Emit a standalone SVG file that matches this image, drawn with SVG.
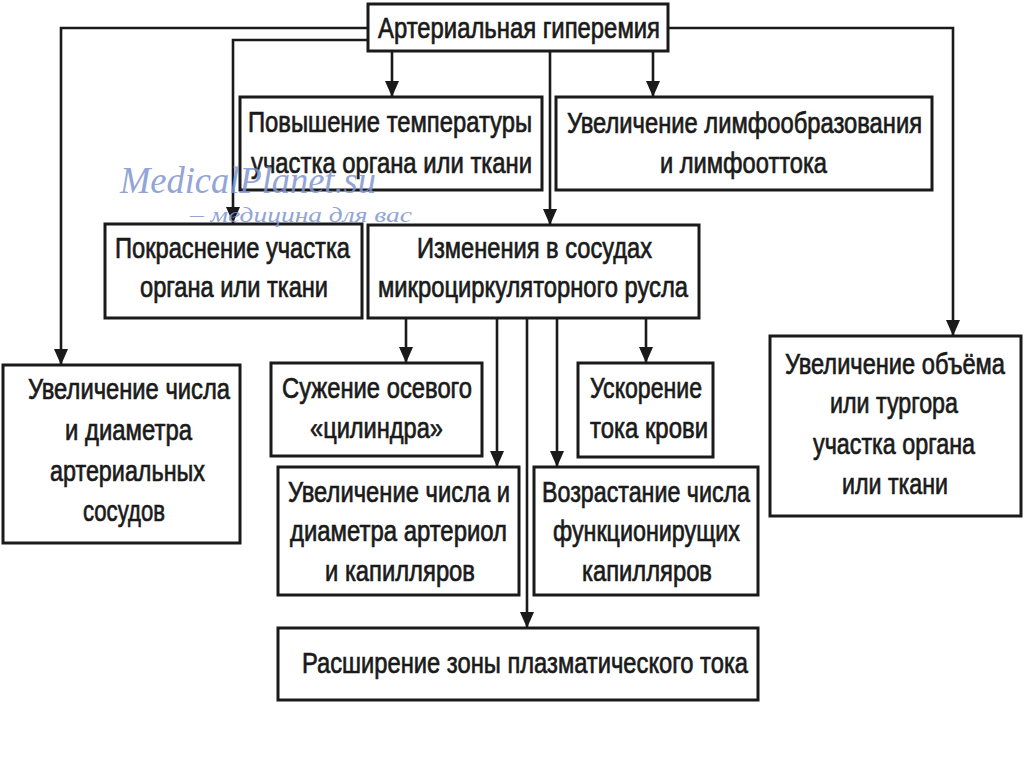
<svg xmlns="http://www.w3.org/2000/svg" width="1024" height="767" viewBox="0 0 1024 767">
<defs>
<marker id="arr" markerUnits="userSpaceOnUse" markerWidth="16" markerHeight="14" refX="16" refY="7" orient="auto" viewBox="0 0 16 14">
<path d="M0,0 L16,7 L0,14 Z" fill="#1a1a1a"/>
</marker>
</defs>
<style>
.box{fill:#fff;stroke:#1a1a1a;stroke-width:3}
.t{font-family:"Liberation Sans",Arial,sans-serif;font-size:29px;fill:#1a1a1a;stroke:#1a1a1a;stroke-width:0.7}
.ca{fill:none;stroke:#1a1a1a;stroke-width:2.6;marker-end:url(#arr)}
.wm{font-family:"Liberation Serif","Times New Roman",serif;font-style:italic;fill:#7f96cf;opacity:0.85}
</style>
<rect width="1024" height="767" fill="#fff"/>
<g id="connectors">
<path class="ca" d="M368,28 H61 V365"/>
<path class="ca" d="M368,40 H233 V223"/>
<path class="ca" d="M392,51 V97"/>
<path class="ca" d="M550,51 V225"/>
<path class="ca" d="M653,51 V97"/>
<path class="ca" d="M668,28 H953 V336"/>
<path class="ca" d="M406,318 V363"/>
<path class="ca" d="M497,318 V467"/>
<path class="ca" d="M527,318 V628"/>
<path class="ca" d="M557,318 V467"/>
<path class="ca" d="M646,318 V363"/>
</g>
<g id="n-top">
<rect class="box" x="368" y="4" width="300" height="47"/>
<text class="t" x="378" y="38" font-size="27" textLength="282" lengthAdjust="spacingAndGlyphs">Артериальная гиперемия</text>
</g>
<g id="n-temp">
<rect class="box" x="240" y="97" width="302" height="93"/>
<text class="t" x="248" y="132" textLength="284" lengthAdjust="spacingAndGlyphs">Повышение температуры</text>
<text class="t" x="251" y="173" textLength="281" lengthAdjust="spacingAndGlyphs">участка органа или ткани</text>
</g>
<g id="n-lymph">
<rect class="box" x="556" y="97" width="376" height="93"/>
<text class="t" x="567" y="133" textLength="355" lengthAdjust="spacingAndGlyphs">Увеличение лимфообразования</text>
<text class="t" x="660" y="173" textLength="167" lengthAdjust="spacingAndGlyphs">и лимфооттока</text>
</g>
<g id="n-red">
<rect class="box" x="105" y="224" width="257" height="94"/>
<text class="t" x="115" y="258" textLength="235" lengthAdjust="spacingAndGlyphs">Покраснение участка</text>
<text class="t" x="140" y="297" textLength="188" lengthAdjust="spacingAndGlyphs">органа или ткани</text>
</g>
<g id="n-vessels">
<rect class="box" x="368" y="225" width="331" height="93"/>
<text class="t" x="417" y="258" textLength="235" lengthAdjust="spacingAndGlyphs">Изменения в сосудах</text>
<text class="t" x="378" y="297" textLength="310" lengthAdjust="spacingAndGlyphs">микроциркуляторного русла</text>
</g>
<g id="n-arteries">
<rect class="box" x="3" y="365" width="237" height="178"/>
<text class="t" x="28" y="399" textLength="202" lengthAdjust="spacingAndGlyphs">Увеличение числа</text>
<text class="t" x="65" y="440" textLength="127" lengthAdjust="spacingAndGlyphs">и диаметра</text>
<text class="t" x="50" y="481" textLength="155" lengthAdjust="spacingAndGlyphs">артериальных</text>
<text class="t" x="83" y="521" textLength="82" lengthAdjust="spacingAndGlyphs">сосудов</text>
</g>
<g id="n-axial">
<rect class="box" x="271" y="363" width="211" height="93"/>
<text class="t" x="282" y="398" textLength="190" lengthAdjust="spacingAndGlyphs">Сужение осевого</text>
<text class="t" x="310" y="438" textLength="133" lengthAdjust="spacingAndGlyphs">«цилиндра»</text>
</g>
<g id="n-accel">
<rect class="box" x="578" y="363" width="135" height="94"/>
<text class="t" x="590" y="398" textLength="112" lengthAdjust="spacingAndGlyphs">Ускорение</text>
<text class="t" x="590" y="438" textLength="118" lengthAdjust="spacingAndGlyphs">тока крови</text>
</g>
<g id="n-arterioles">
<rect class="box" x="278" y="467" width="241" height="128"/>
<text class="t" x="288" y="502" textLength="222" lengthAdjust="spacingAndGlyphs">Увеличение числа и</text>
<text class="t" x="290" y="541" textLength="217" lengthAdjust="spacingAndGlyphs">диаметра артериол</text>
<text class="t" x="325" y="581" textLength="150" lengthAdjust="spacingAndGlyphs">и капилляров</text>
</g>
<g id="n-capillaries">
<rect class="box" x="534" y="467" width="224" height="128"/>
<text class="t" x="542" y="502" textLength="208" lengthAdjust="spacingAndGlyphs">Возрастание числа</text>
<text class="t" x="553" y="541" textLength="187" lengthAdjust="spacingAndGlyphs">функционирущих</text>
<text class="t" x="582" y="581" textLength="130" lengthAdjust="spacingAndGlyphs">капилляров</text>
</g>
<g id="n-volume">
<rect class="box" x="770" y="336" width="251" height="180"/>
<text class="t" x="785" y="374" textLength="220" lengthAdjust="spacingAndGlyphs">Увеличение объёма</text>
<text class="t" x="830" y="413" textLength="128" lengthAdjust="spacingAndGlyphs">или тургора</text>
<text class="t" x="813" y="454" textLength="162" lengthAdjust="spacingAndGlyphs">участка органа</text>
<text class="t" x="842" y="494" textLength="106" lengthAdjust="spacingAndGlyphs">или ткани</text>
</g>
<g id="n-plasma">
<rect class="box" x="278" y="628" width="480" height="72"/>
<text class="t" x="302" y="673" textLength="446" lengthAdjust="spacingAndGlyphs">Расширение зоны плазматического тока</text>
</g>
<g id="watermark">
<text class="wm" x="120" y="193" font-size="38" textLength="256" lengthAdjust="spacingAndGlyphs">MedicalPlanet.su</text>
<text class="wm" x="190" y="222" font-size="22" textLength="222" lengthAdjust="spacingAndGlyphs">– медицина для вас</text>
</g>
</svg>
